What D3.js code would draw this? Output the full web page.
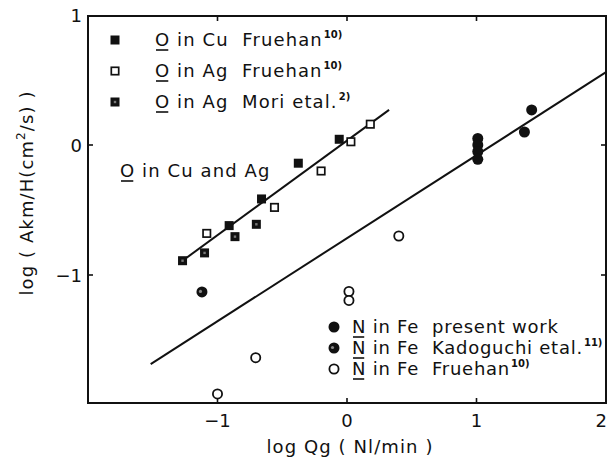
<!DOCTYPE html>
<html>
<head>
<meta charset="utf-8">
<script src="https://cdn.jsdelivr.net/npm/d3@7"></script>
<style>
  html, body { margin: 0; padding: 0; background: #fff; }
  svg { display: block; }
  text { font-family: "DejaVu Sans", "Liberation Sans", sans-serif; fill: #111; letter-spacing: 1.1px; }
</style>
</head>
<body>
<svg id="chart" width="608" height="462"></svg>
<script>
// Mass-transfer data: log Qg (Nl/min) vs log(Akm/H) (cm^2/s)
const oCuFruehan = [[-0.91, -0.62], [-0.66, -0.415], [-0.376, -0.14], [-0.06, 0.044]];
const oAgFruehan = [[-1.083, -0.68], [-0.56, -0.48], [-0.2, -0.2], [0.03, 0.025], [0.18, 0.16]];
const oAgMori = [[-1.27, -0.89], [-1.10, -0.83], [-0.865, -0.705], [-0.70, -0.61]];
const nFePresent = [[1.01, 0.05], [1.01, 0.0], [1.01, -0.05], [1.01, -0.11], [1.37, 0.10], [1.426, 0.27]];
const nFeKadoguchi = [[-1.12, -1.13]];
const nFeFruehan = [[-1.0, -1.915], [-0.705, -1.636], [0.015, -1.127], [0.015, -1.196], [0.40, -0.70]];

// Regression lines (endpoints in data units)
const lineOCuAg = [[-1.27, -0.89], [0.325, 0.27]];
const lineNFe = [[-1.516, -1.685], [2.0, 0.56]];

const xTicks = [-1, 0, 1, 2];
const yTicks = [1, 0, -1];
const xDomain = [-2, 2];
const yDomain = [-2, 1];

const FS = 18;
const svg = d3.select("#chart");
const pLeft = 88, pRight = 606, pTop = 15, pBottom = 405;
const x = d3.scaleLinear().domain(xDomain).range([pLeft, pRight]);
const y = d3.scaleLinear().domain(yDomain).range([pBottom, pTop]);

// Frame
const frameBottom = y(-2) - 2;
svg.append("rect")
  .attr("x", pLeft).attr("y", pTop + 1)
  .attr("width", pRight - pLeft).attr("height", frameBottom - pTop - 1)
  .attr("fill", "none").attr("stroke", "#111").attr("stroke-width", 2);

// Inward ticks on all four sides
const tk = 5;
[-1, 0, 1].forEach(v => {
  svg.append("line").attr("x1", x(v)).attr("x2", x(v)).attr("y1", frameBottom).attr("y2", frameBottom - tk).attr("stroke", "#111").attr("stroke-width", 1.6);
  svg.append("line").attr("x1", x(v)).attr("x2", x(v)).attr("y1", pTop + 1).attr("y2", pTop + 1 + tk).attr("stroke", "#111").attr("stroke-width", 1.6);
});
[0, -1].forEach(v => {
  svg.append("line").attr("y1", y(v)).attr("y2", y(v)).attr("x1", pLeft).attr("x2", pLeft + tk).attr("stroke", "#111").attr("stroke-width", 1.6);
  svg.append("line").attr("y1", y(v)).attr("y2", y(v)).attr("x1", pRight).attr("x2", pRight - tk).attr("stroke", "#111").attr("stroke-width", 1.6);
});

// Tick labels (the last one sits flush with the right edge)
const fmt = v => v < 0 ? "\u2212" + Math.abs(v) : String(v);
svg.selectAll(".xt").data(xTicks).enter().append("text")
  .attr("x", d => d === 2 ? 607 : x(d)).attr("y", 427)
  .attr("text-anchor", d => d === 2 ? "end" : "middle").attr("font-size", FS)
  .style("letter-spacing", "0px")
  .text(fmt);
svg.selectAll(".yt").data(yTicks).enter().append("text")
  .attr("x", 82).attr("y", d => y(d) + 7)
  .attr("text-anchor", "end").attr("font-size", FS)
  .style("letter-spacing", "0px")
  .text(fmt);

// Axis titles
svg.append("text").attr("x", 350).attr("y", 453).attr("text-anchor", "middle")
  .attr("font-size", FS).text("log Qg ( Nl/min )");
const yt = svg.append("text").attr("transform", "translate(33,193) rotate(-90)")
  .attr("text-anchor", "middle").attr("font-size", FS);
yt.append("tspan").text("log ( Akm/H(cm");
yt.append("tspan").attr("font-size", 12).attr("dy", -8).text("2");
yt.append("tspan").attr("dy", 8).text("/s) )");

// Regression lines
const lineGen = d3.line().x(d => x(d[0])).y(d => y(d[1]));
[lineOCuAg, lineNFe].forEach(l => {
  svg.append("path").attr("d", lineGen(l)).attr("fill", "none")
    .attr("stroke", "#111").attr("stroke-width", 2);
});

// Marker drawers
const S = 9;
function sqFilled(g, cx, cy) {
  g.append("rect").attr("x", cx - S / 2).attr("y", cy - S / 2).attr("width", S).attr("height", S)
    .attr("fill", "#111");
}
function sqOpen(g, cx, cy) {
  g.append("rect").attr("x", cx - S / 2 + 0.8).attr("y", cy - S / 2 + 0.8).attr("width", S - 1.6).attr("height", S - 1.6)
    .attr("fill", "#fff").attr("stroke", "#111").attr("stroke-width", 1.7);
}
function sqDot(g, cx, cy) {
  g.append("rect").attr("x", cx - S / 2).attr("y", cy - S / 2).attr("width", S).attr("height", S)
    .attr("fill", "#111");
  g.append("rect").attr("x", cx - 1.2).attr("y", cy - 1.2).attr("width", 2.4).attr("height", 2.4)
    .attr("fill", "#777");
}
const R = 5.5;
function cFilled(g, cx, cy) {
  g.append("circle").attr("cx", cx).attr("cy", cy).attr("r", R).attr("fill", "#111");
}
function cHalf(g, cx, cy) {
  g.append("circle").attr("cx", cx).attr("cy", cy).attr("r", R).attr("fill", "#111");
  g.append("circle").attr("cx", cx - 1.5).attr("cy", cy - 0.5).attr("r", 1.6).attr("fill", "#888");
}
function cOpen(g, cx, cy) {
  g.append("circle").attr("cx", cx).attr("cy", cy).attr("r", R - 0.9).attr("fill", "#fff")
    .attr("stroke", "#111").attr("stroke-width", 1.8);
}

const series = [
  [oAgFruehan, sqOpen], [oCuFruehan, sqFilled], [oAgMori, sqDot],
  [nFePresent, cFilled], [nFeKadoguchi, cHalf], [nFeFruehan, cOpen]
];
const marks = svg.append("g");
series.forEach(([data, draw]) => {
  data.forEach(d => draw(marks, x(d[0]), y(d[1])));
});

// Legend text helper: underlined first letter, optional superscript reference
function legendLabel(tx, ty, lead, rest, sup, spacing) {
  const t = svg.append("text").attr("x", tx).attr("y", ty).attr("font-size", FS)
    .attr("xml:space", "preserve");
  if (spacing != null) t.style("letter-spacing", spacing + "px");
  t.append("tspan").text(lead);
  t.append("tspan").text(rest);
  if (sup) t.append("tspan").attr("font-size", 10).attr("font-weight", "bold")
    .style("letter-spacing", "0px").attr("dx", 1).attr("dy", -8).text(sup);
  const w = t.node().getSubStringLength(0, 1);
  svg.append("line").attr("x1", tx + 1).attr("x2", tx + w - 2)
    .attr("y1", ty + 4).attr("y2", ty + 4).attr("stroke", "#111").attr("stroke-width", 1.6);
}

const legendO = [
  [sqFilled, "O", " in Cu  Fruehan", "10)"],
  [sqOpen, "O", " in Ag  Fruehan", "10)"],
  [sqDot, "O", " in Ag  Mori etal.", "2)"]
];
const legendOY = [40, 71, 102];
legendO.forEach((r, i) => {
  r[0](svg, 115, legendOY[i]);
  legendLabel(155, legendOY[i] + 6, r[1], r[2], r[3]);
});

legendLabel(120, 177, "O", " in Cu and Ag", null);

const legendN = [
  [cFilled, "N", " in Fe  present work", null],
  [cHalf, "N", " in Fe  Kadoguchi etal.", "11)"],
  [cOpen, "N", " in Fe  Fruehan", "10)"]
];
const legendNY = [327, 348, 369];
legendN.forEach((r, i) => {
  r[0](svg, 334, legendNY[i]);
  legendLabel(352, legendNY[i] + 6, r[1], r[2], r[3], 0.75);
});
</script>
</body>
</html>
